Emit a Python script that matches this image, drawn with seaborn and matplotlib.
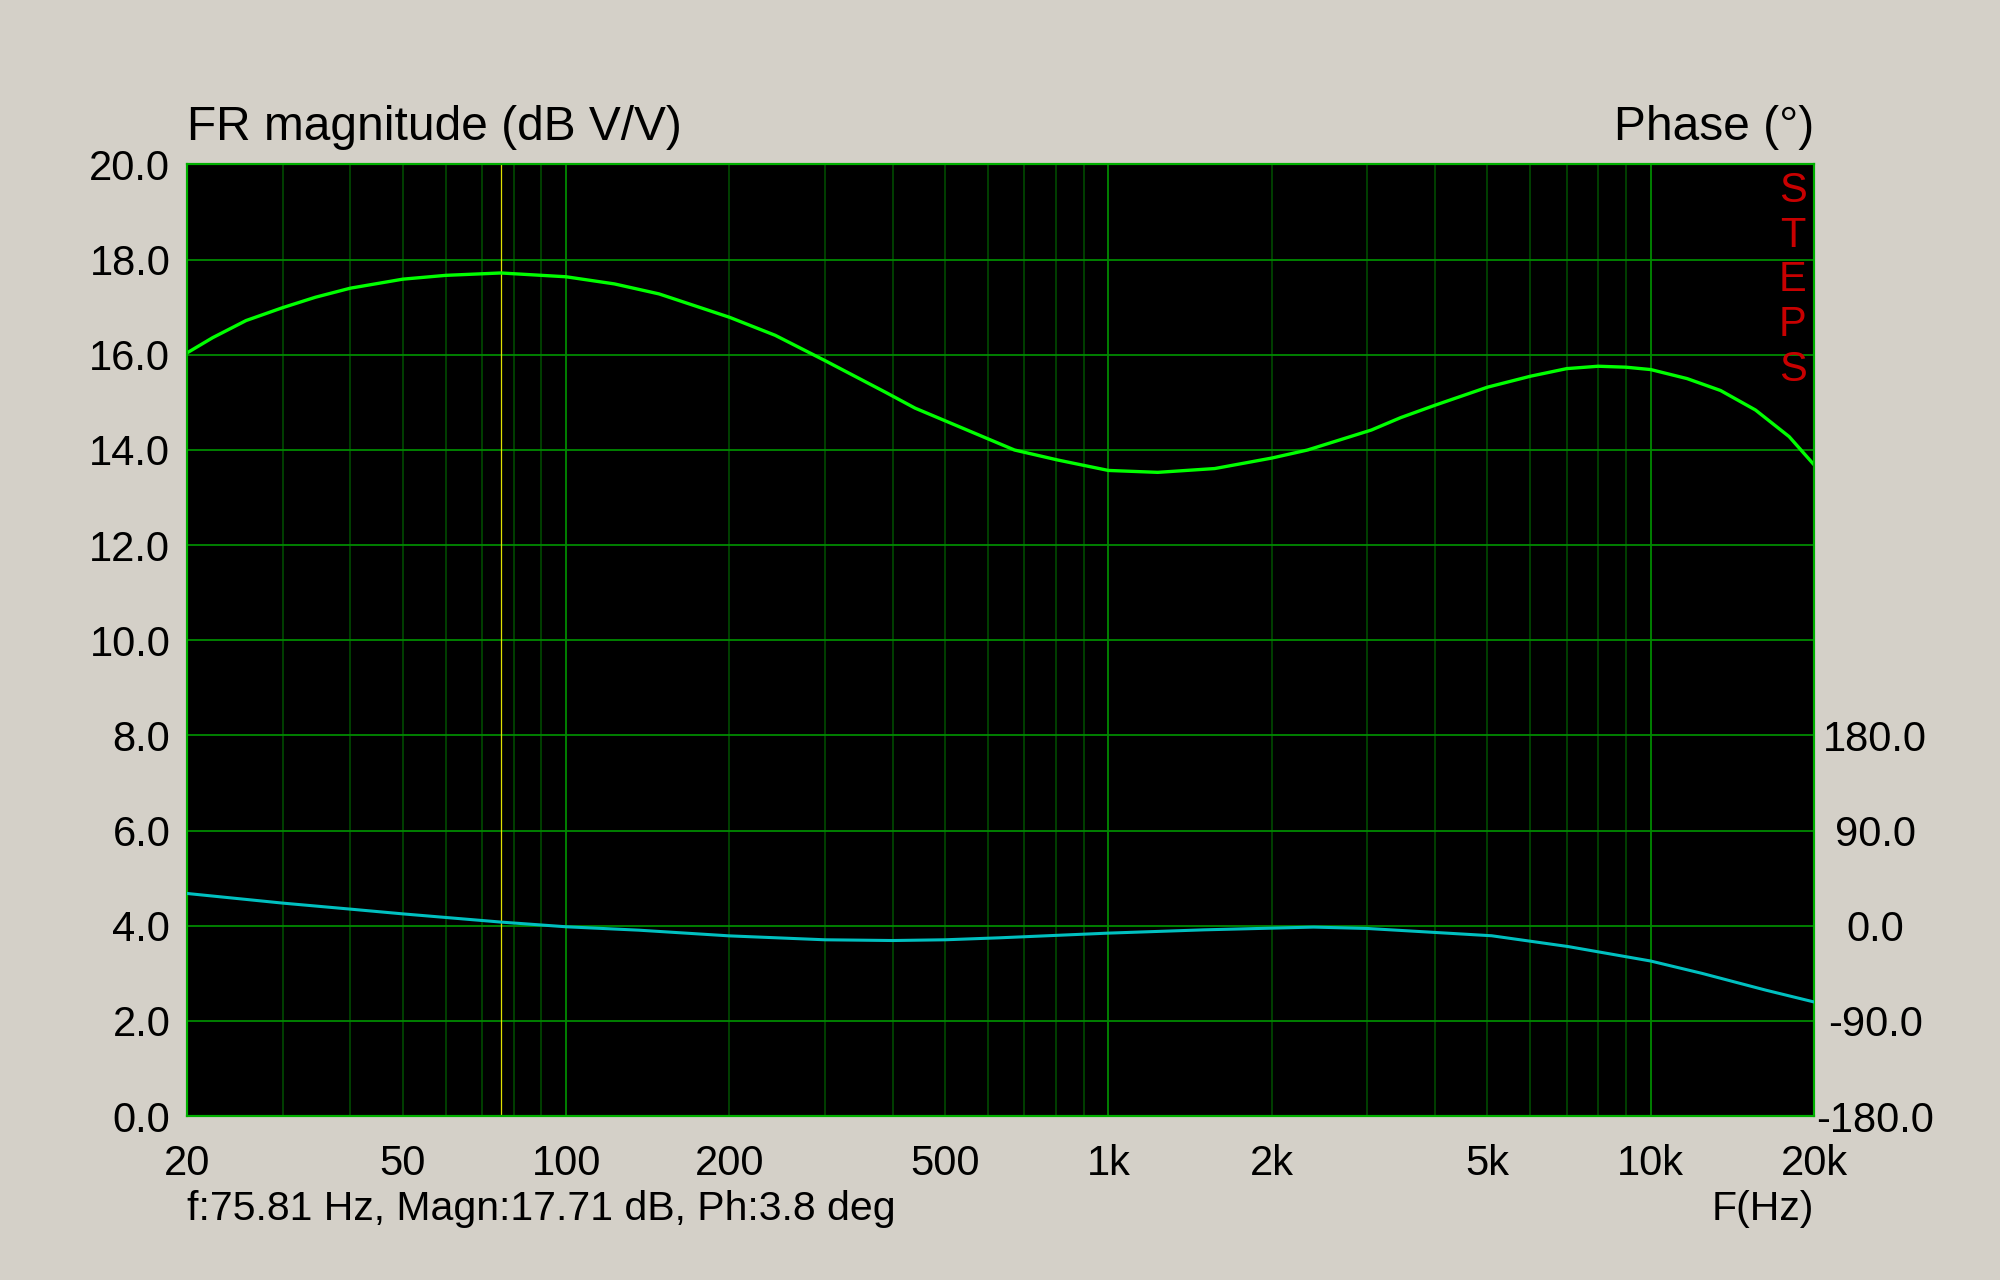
import numpy as np
import pandas as pd
import seaborn as sns
import matplotlib
matplotlib.use('Agg')
import matplotlib.pyplot as plt
from matplotlib.ticker import FixedLocator, LogLocator, FuncFormatter

# Datos
mag_freq = [20, 22.3, 25.7, 30, 34.5, 40, 50, 60, 75.8, 100, 122.8, 148.4, 200, 243,
            300, 388.6, 440, 671, 806, 1000, 1233, 1571, 2000, 2330, 3055, 3459,
            4000, 5000, 6000, 7000, 8000, 9000, 10000, 11670, 13450, 15600, 18000, 20000]
mag_db = [16.04, 16.36, 16.72, 16.99, 17.21, 17.40, 17.59, 17.67, 17.72, 17.64, 17.49,
          17.28, 16.79, 16.41, 15.88, 15.21, 14.88, 14.0, 13.79, 13.57, 13.53, 13.61,
          13.83, 14.0, 14.42, 14.68, 14.94, 15.32, 15.55, 15.71, 15.76, 15.74, 15.69,
          15.50, 15.25, 14.84, 14.28, 13.69]

phase_freq = [20, 30, 40, 50, 60, 76, 100, 136, 200, 300, 400, 500, 632, 1000, 1500,
              2390, 3000, 5090, 7040, 10000, 12440, 16290, 20000]
phase_deg = [30.6, 21.5, 15.8, 11.3, 7.9, 3.5, -0.9, -4.1, -9.5, -13.2, -13.9, -13.2,
             -11.3, -6.9, -3.8, -1.2, -2.5, -9.4, -19.6, -33.3, -45.0, -60.8, -72.0]

cursor_f = 75.81
cursor_text = "f:75.81 Hz, Magn:17.71 dB, Ph:3.8 deg"

x_labels = {20: '20', 50: '50', 100: '100', 200: '200', 500: '500', 1000: '1k',
            2000: '2k', 5000: '5k', 10000: '10k', 20000: '20k'}
mag_ticks = [0, 2, 4, 6, 8, 10, 12, 14, 16, 18, 20]
phase_ticks = [-180, -90, 0, 90, 180]

bg = '#D4D0C8'
grid_major = '#008a00'
grid_minor = '#005000'

sns.set_style('white')
plt.rcParams['font.family'] = ['Liberation Sans', 'DejaVu Sans']
plt.rcParams['text.color'] = 'black'

fig = plt.figure(figsize=(20, 12.8), dpi=100, facecolor=bg)
ax = fig.add_axes([0.0935, 0.128, 0.8135, 0.7435])
ax.set_facecolor('black')

df_mag = pd.DataFrame({'f': mag_freq, 'db': mag_db})
df_ph = pd.DataFrame({'f': phase_freq, 'deg': phase_deg})

ax.set_xscale('log')
ax.set_xlim(20, 20000)
ax.set_ylim(0, 20)

# rejilla
ax.xaxis.set_major_locator(FixedLocator([100, 1000, 10000]))
ax.xaxis.set_minor_locator(LogLocator(base=10, subs=np.arange(2, 10), numticks=20))
fmt = FuncFormatter(lambda v, p: x_labels.get(int(round(v)), ''))
ax.xaxis.set_major_formatter(fmt)
ax.xaxis.set_minor_formatter(fmt)
ax.set_yticks(mag_ticks)
ax.set_yticklabels(['%.1f' % t for t in mag_ticks])
ax.grid(which='major', axis='both', color=grid_major, lw=1.3)
ax.grid(which='minor', axis='x', color=grid_minor, lw=1.1)
ax.set_axisbelow(True)

ax.tick_params(axis='x', which='both', length=0, pad=20, labelsize=30, colors='black')
ax.tick_params(axis='y', length=0, pad=12, labelsize=30, colors='black')
for s in ax.spines.values():
    s.set_color('#00b000')
    s.set_linewidth(1.5)

ax.axvline(cursor_f, color='#e0e000', lw=0.9, zorder=2)

sns.lineplot(data=df_mag, x='f', y='db', ax=ax, color='#00ff00', lw=2.4, zorder=4)

ax2 = ax.twinx()
ax2.set_ylim(-180, 720)
sns.lineplot(data=df_ph, x='f', y='deg', ax=ax2, color='#00c0c0', lw=2.2, zorder=4)
ax2.set_yticks(phase_ticks)
ax2.set_yticklabels(['%.1f' % t for t in phase_ticks])
ax2.tick_params(axis='y', length=0, pad=44, labelsize=30, colors='black')
for lbl in ax2.get_yticklabels():
    lbl.set_horizontalalignment('center')
for s in ax2.spines.values():
    s.set_color('#00b000')
    s.set_linewidth(1.5)
ax.set_xlabel('')
ax.set_ylabel('')
ax2.set_xlabel('')
ax2.set_ylabel('')

# textos
ax.text(0.0, 1.039, 'FR magnitude (dB V/V)', transform=ax.transAxes, fontsize=34.5,
        ha='left', va='center')
ax.text(1.0, 1.039, 'Phase (°)', transform=ax.transAxes, fontsize=34.5,
        ha='right', va='center')
for i, ch in enumerate('STEPS'):
    ax.text(0.987, 0.972 - i * 0.0469, ch, transform=ax.transAxes, fontsize=30,
            color='#c80000', ha='center', va='center', zorder=6)
fig.text(0.0935, 0.0555, cursor_text, fontsize=29.5, ha='left', va='center')
fig.text(0.907, 0.0555, 'F(Hz)', fontsize=29.5, ha='right', va='center')

plt.savefig('out.png', dpi=100, facecolor=bg)
